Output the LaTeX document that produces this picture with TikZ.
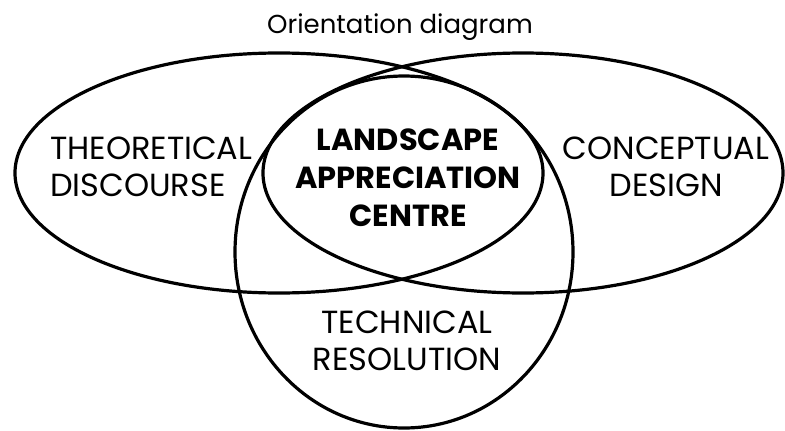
\documentclass[tikz,border=0pt]{standalone}
\usepackage{fontspec}
\setmainfont{Poppins}
\begin{document}
\begin{tikzpicture}[x=1pt, y=-1pt,
    set/.style={line width=3.2pt},
    setlabel/.style={font=\fontsize{32}{37}\selectfont, align=center, inner sep=0pt},
    hublabel/.style={font=\fontsize{30.5}{38}\selectfont\bfseries, align=center, inner sep=0pt}]
  \useasboundingbox (0,0) rectangle (785,431);
  % the three fields
  \draw[set] (279,173) ellipse [x radius=264, y radius=120];
  \draw[set] (523,173) ellipse [x radius=260, y radius=120];
  \draw[set] (404,252) ellipse [x radius=169, y radius=176];
  % labels
  \node[font=\fontsize{26}{30}\selectfont, inner sep=0pt, anchor=base] (title) at (400,34) {Orientation diagram};
  \node[setlabel, align=left, anchor=west] (theory) at (50,167) {THEORETICAL\\DISCOURSE};
  \node[setlabel] (concept) at (666,167) {CONCEPTUAL\\DESIGN};
  \node[setlabel] (technical) at (407,341) {TECHNICAL\\RESOLUTION};
  \node[hublabel] (centre) at (408,178) {LANDSCAPE\\APPRECIATION\\CENTRE};
\end{tikzpicture}
\end{document}
